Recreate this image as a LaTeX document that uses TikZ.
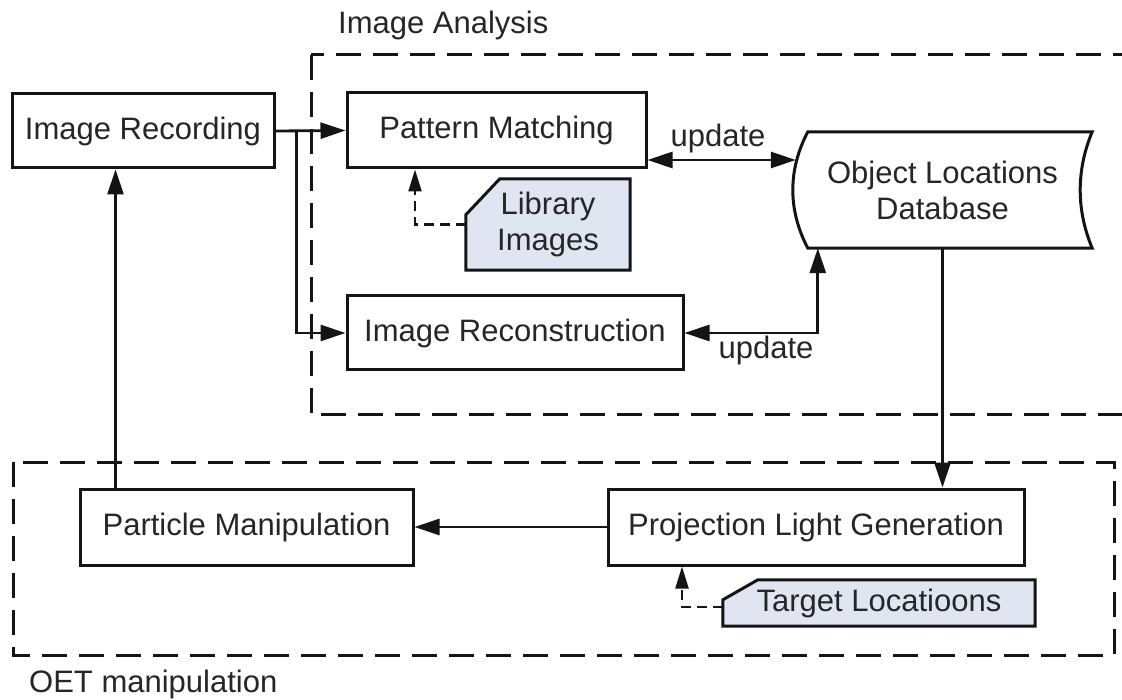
\documentclass[tikz,border=0pt]{standalone}
\usepackage{fontspec}
\setmainfont{Liberation Sans}
\usetikzlibrary{arrows.meta,backgrounds,calc}
\definecolor{ink}{HTML}{141414}
\definecolor{txt}{HTML}{262626}
\definecolor{docfill}{HTML}{DFE6F2}
\tikzset{
  every node/.style={font=\fontsize{31}{36}\selectfont, text=txt, inner sep=0pt, align=center},
  procbox/.style={draw=ink, line width=3pt, fill=white},
  group/.style={draw=ink, line width=3pt, dash pattern=on 25pt off 12pt},
  docshape/.style={draw=ink, line width=3pt, fill=docfill},
  dbshape/.style={draw=ink, line width=3pt, fill=white},
  tip/.style={Triangle[length=25pt,width=16pt]},
  arr/.style={draw=ink, line width=2.8pt, -{Triangle[length=25pt,width=16pt]}},
  arrboth/.style={draw=ink, line width=2.8pt, {Triangle[length=25pt,width=16pt]}-{Triangle[length=25pt,width=16pt]}},
  darr/.style={draw=ink, line width=2.2pt, dash pattern=on 10pt off 6pt, -{Triangle[length=22pt,width=13pt]}},
}
\begin{document}
\begin{tikzpicture}[x=1pt,y=-1pt]
\clip (0,0) rectangle (1122,700);
\begin{pgfonlayer}{background}
  \fill[white] (0,0) rectangle (1122,700);
\end{pgfonlayer}

% grouping frames and their captions
\draw[group] (311,55) rectangle (1160,415);
\draw[group] (13,462) rectangle (1114,655);
\node[anchor=west] (capA) at (338,25) {Image Analysis};
\node[anchor=west] (capB) at (29,684) {OET manipulation};

% process boxes
\node[procbox, minimum width=262pt, minimum height=74pt] (rec) at (143,131) {Image Recording};
\node[procbox, minimum width=299pt, minimum height=75pt] (pm) at (496.5,130.5) {Pattern Matching};
\node[procbox, minimum width=336pt, minimum height=74pt] (recon) at (515,333) {Image Reconstruction};
\node[procbox, minimum width=333pt, minimum height=76pt] (part) at (246.5,527) {Particle Manipulation};
\node[procbox, minimum width=416pt, minimum height=76pt] (ple) at (816,527) {Projection Light Generation};

% stored data
\node[minimum width=299pt, minimum height=116pt] (db) at (942.5,190) {Object Locations\\Database};
\begin{pgfonlayer}{background}
  \draw[dbshape] ($(db.north west)+(15,0)$) -- (db.north east)
    .. controls ($(db.east)+(-16,-20)$) and ($(db.east)+(-16,20)$) .. (db.south east)
    -- ($(db.south west)+(15,0)$)
    .. controls ($(db.west)+(-5,20)$) and ($(db.west)+(-5,-20)$) .. cycle;
\end{pgfonlayer}

% documents
\node[minimum width=164pt, minimum height=91pt] (lib) at (548,224.5) {Library\\Images};
\node[minimum width=312pt, minimum height=46pt] (tgt) at (879,603) {Target Locatioons};
\begin{pgfonlayer}{background}
  \draw[docshape] ($(lib.north west)+(0,36)$) -- ($(lib.north west)+(34,0)$)
    -- (lib.north east) -- (lib.south east) -- (lib.south west) -- cycle;
  \draw[docshape] ($(tgt.north west)+(0,20)$) -- ($(tgt.north west)+(35,0)$)
    -- (tgt.north east) -- (tgt.south east) -- (tgt.south west) -- cycle;
\end{pgfonlayer}

% connectors
\coordinate (split) at ($(rec.east)+(21,0)$);
\coordinate (dbin) at ($(db.west)+(3,-30)$);
\coordinate (dbbot) at ($(db.south west)+(25,0)$);

\draw[arr] (rec.east) -- (pm.west);
\draw[arr] (split) |- (recon.west);
\draw[arrboth] (pm.east |- dbin) -- (dbin);
\node (upd1) at (718,138) {update};
\draw[arrboth] (recon.east) -| (dbbot);
\node (upd2) at (766,350) {update};
\draw[arr] (db.south) -- (db.south |- ple.north);
\draw[arr] (ple.west) -- (part.east);
\draw[arr] ([xshift=37pt]part.north west) -- ([xshift=37pt]part.north west |- rec.south);
\draw[darr] (lib.west) -| ([xshift=-81.5pt]pm.south);
\draw[darr] ([yshift=-4pt]tgt.west) -| ([xshift=-134pt]ple.south);
\end{tikzpicture}
\end{document}
